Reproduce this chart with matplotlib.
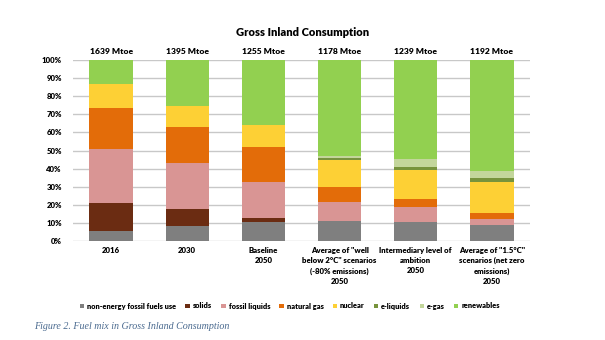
import matplotlib
matplotlib.use("Agg")
import matplotlib.pyplot as plt
import numpy as np

categories = ["2016", "2030", "Baseline\n2050",
              "Average of \"well\nbelow 2°C\" scenarios\n(-80% emissions)\n2050",
              "Intermediary level of\nambition\n2050",
              "Average of \"1.5°C\"\nscenarios (net zero\nemissions)\n2050"]
totals = ["1639 Mtoe", "1395 Mtoe", "1255 Mtoe", "1178 Mtoe", "1239 Mtoe", "1192 Mtoe"]

series_names = ["non-energy fossil fuels use", "solids", "fossil liquids", "natural gas",
                "nuclear", "e-liquids", "e-gas", "renewables"]
non_energy = [5.7, 8.5, 10.5, 11.0, 10.5, 8.7]
solids = [15.5, 9.4, 2.2, 0.2, 0.2, 0.1]
fossil_liquids = [29.8, 25.4, 20.1, 10.3, 8.3, 3.5]
natural_gas = [22.5, 19.5, 18.9, 8.3, 4.2, 3.2]
nuclear = [13.4, 11.8, 12.4, 15.1, 16.2, 16.9]
e_liquids = [0.0, 0.0, 0.0, 1.0, 1.5, 2.2]
e_gas = [0.0, 0.0, 0.0, 1.2, 4.2, 4.1]
renewables = [13.1, 25.4, 35.9, 52.9, 54.9, 61.3]

colors = ["#7F7F7F", "#6B2C12", "#D99594", "#E36C09", "#FDD035", "#77933C", "#C3D69B", "#92D050"]

font = "Lato"
fig = plt.figure(figsize=(6.05, 3.4), dpi=100)
ax = fig.add_axes([0.1207, 0.291, 0.7553, 0.5325])

x = np.arange(len(categories))
data = [non_energy, solids, fossil_liquids, natural_gas, nuclear, e_liquids, e_gas, renewables]
bottom = np.zeros(len(categories))
for name, vals, c in zip(series_names, data, colors):
    ax.bar(x, vals, width=0.57, bottom=bottom, color=c, label=name, zorder=3)
    bottom += np.array(vals)

ax.set_xlim(-0.5, len(categories) - 0.5)
ax.set_ylim(0, 100)
ax.set_yticks(np.arange(0, 101, 10))
ax.set_yticklabels([f"{v}%" for v in range(0, 101, 10)], fontsize=5.6,
                   fontweight="heavy", family=font)
ax.set_xticks(x)
ax.set_xticklabels(categories, fontsize=5.6, fontweight="heavy", family=font,
                   linespacing=1.55, va="top")
ax.tick_params(axis="both", length=0)
ax.tick_params(axis="x", pad=4)
ax.tick_params(axis="y", pad=8)
ax.grid(axis="y", color="#C8C8C8", linewidth=1.0, zorder=0)
for s in ax.spines.values():
    s.set_visible(False)

for xi, t in zip(x, totals):
    ax.text(xi, 103, t, ha="center", va="bottom", fontsize=6.1, fontweight="heavy", family=font)

fig.text(0.5, 0.903, "Gross Inland Consumption", ha="center", va="center",
         fontsize=8, fontweight="heavy", family=font)

leg = fig.legend(loc="center", bbox_to_anchor=(0.479, 0.1), ncol=8, frameon=False,
                 prop={"family": font, "weight": "heavy", "size": 5.3},
                 handlelength=0.6, handleheight=0.6, handletextpad=0.4, columnspacing=1.25)

fig.text(0.056, 0.04, "Figure 2. Fuel mix in Gross Inland Consumption", ha="left", va="center",
         fontsize=7.2, style="italic", family="Liberation Serif", color="#4A6A8F")

fig.savefig("out.png", dpi=100)
